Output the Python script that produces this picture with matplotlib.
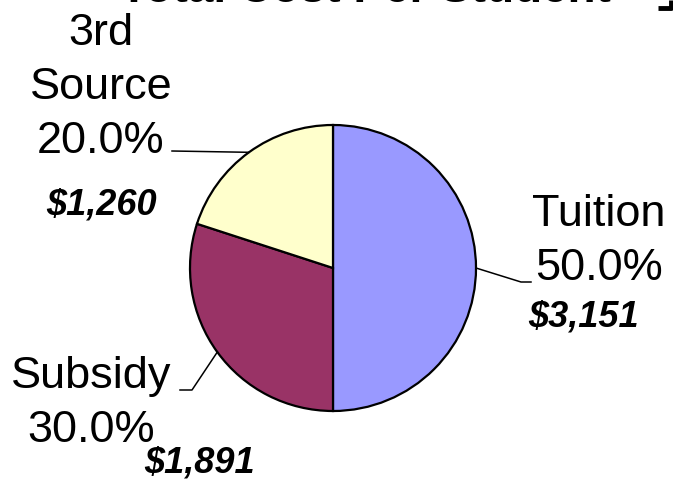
"""Pie chart of per-student cost split by funding source."""

import numpy as np
import matplotlib
matplotlib.use("Agg")
import matplotlib.pyplot as plt

plt.rcParams["font.family"] = ["Liberation Sans", "DejaVu Sans"]

W, H = 673, 484

categories = ["Tuition", "Subsidy", "3rd\nSource"]
shares = [50.0, 30.0, 20.0]
amounts = [3151, 1891, 1260]
colors = ["#9999FF", "#993366", "#FFFFCC"]
title = "Total Cost Per Student"

# label layout in pixel units (x centre, first baseline from top)
label_pos = [(599, 226), (91, 388), (101, 45)]
amount_pos = [(583, 327), (200, 473), (101, 215)]
# leader line: elbow and end point (pixels from top-left)
leaders = [[(521, 282), (531, 282)], [(192, 390), (180, 390)], [(172, 151)]]


def py(y):
    return H - y


def main():
    fig = plt.figure(figsize=(W / 100, H / 100), dpi=100)
    ax = fig.add_axes([0, 0, 1, 1])

    cx, cy, r = 333, py(268), 143
    wedges, _ = ax.pie(
        shares,
        colors=colors,
        startangle=90,
        counterclock=False,
        center=(cx, cy),
        radius=r,
        wedgeprops=dict(edgecolor="black", linewidth=1.6),
    )
    ax.set_xlim(0, W)
    ax.set_ylim(0, H)
    ax.set_aspect("equal")
    ax.axis("off")

    line_gap = 54
    for i, w in enumerate(wedges):
        mid = np.deg2rad((w.theta1 + w.theta2) / 2)
        ex, ey = cx + r * np.cos(mid), cy + r * np.sin(mid)
        xs = [ex] + [p[0] for p in leaders[i]]
        ys = [ey] + [py(p[1]) for p in leaders[i]]
        ax.plot(xs, ys, color="black", linewidth=1.1)

        lines = categories[i].split("\n") + [f"{shares[i]:.1f}%"]
        lx, ly = label_pos[i]
        for k, text in enumerate(lines):
            ax.text(lx, py(ly + k * line_gap), text, ha="center", va="baseline",
                    fontsize=32.5, color="black")
        ax_, ay_ = amount_pos[i]
        ax.text(ax_, py(ay_), f"${amounts[i]:,}", ha="center", va="baseline",
                fontsize=26, fontweight="bold", fontstyle="italic", color="black")

    # title sits mostly above the visible area
    ax.text(365, py(1.5), title, ha="center", va="baseline", fontsize=33,
            fontweight="bold", color="black", clip_on=False)
    ax.plot([658, 670.5, 670.5], [py(7.5), py(7.5), py(0)], color="black",
            linewidth=3.5, solid_capstyle="butt", clip_on=False)

    fig.savefig("out.png", dpi=100, facecolor="white")


if __name__ == "__main__":
    main()
